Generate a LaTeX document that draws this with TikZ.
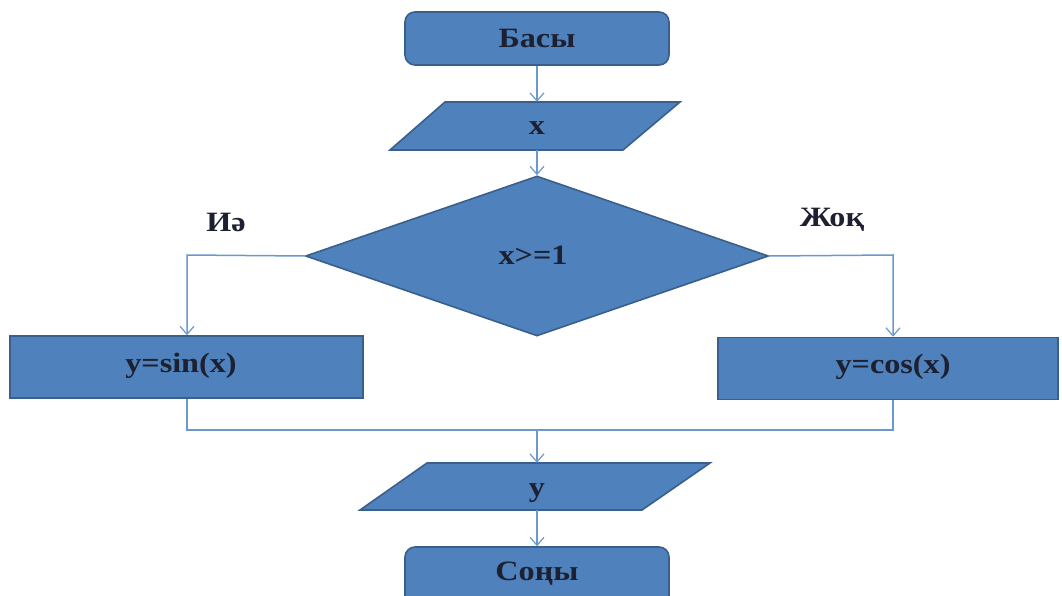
\documentclass[tikz,border=0pt]{standalone}
\usepackage{fontspec}
\setmainfont{Liberation Serif}
\newfontfamily\diagfont[FakeStretch=1.15]{Liberation Serif}
\usetikzlibrary{shapes.geometric,arrows.meta}
\definecolor{boxfill}{HTML}{4F81BD}
\definecolor{boxedge}{HTML}{3A5F8B}
\definecolor{linec}{HTML}{6A98CF}
\definecolor{txt}{HTML}{1C2030}
\tikzset{
  shapebox/.style={draw=boxedge,fill=boxfill,line width=1.6pt,inner sep=0pt,font=\diagfont\bfseries\fontsize{28}{32}\selectfont,text=txt},
  termbox/.style={shapebox,rounded corners=10pt,minimum width=264pt,minimum height=53pt},
  procbox/.style={shapebox,minimum height=62pt},
  textonly/.style={inner sep=0pt,font=\diagfont\bfseries\fontsize{28}{32}\selectfont,text=txt},
  conn/.style={draw=linec,line width=1.5pt,-{Straight Barb[length=8pt,width=14pt,line width=1.2pt]}},
  plain/.style={draw=linec,line width=1.5pt},
  lbl/.style={inner sep=0pt,font=\diagfont\bfseries\fontsize{28}{32}\selectfont,text=txt}
}
\begin{document}
\begin{tikzpicture}[x=1pt,y=-1pt]
\useasboundingbox (0,0) rectangle (1062,596);
\begin{scope}
\clip (0,0) rectangle (1062,596);
% terminals
\node[termbox] (basy) at (537,38.5) {};
\node[textonly,anchor=base] at (537,48) {Басы};
\node[termbox,minimum height=60pt] (sony) at (537,577) {};
\node[textonly,anchor=base] at (537,580) {Соңы};
% input x
\filldraw[draw=boxedge,fill=boxfill,line width=1.6pt] (445,102) -- (680,102) -- (623,150) -- (390,150) -- cycle;
\node[minimum width=150pt,minimum height=48pt,inner sep=0pt] (xin) at (537,126) {};
\node[textonly,anchor=base] at (537,135) {x};
% decision
\node[shapebox,diamond,minimum width=463pt,minimum height=160pt] (dec) at (537,256) {};
\node[textonly] at (533,255) {x>=1};
% process boxes
\node[procbox,minimum width=353pt] (sin) at (186.5,367) {};
\node[textonly] at (181,366) {y=sin(x)};
\node[procbox,minimum width=340pt] (cos) at (888,368.5) {};
\node[textonly] at (893,367) {y=cos(x)};
% output y
\filldraw[draw=boxedge,fill=boxfill,line width=1.6pt] (427,463) -- (710,463) -- (642,510) -- (360,510) -- cycle;
\node[minimum width=150pt,minimum height=47pt,inner sep=0pt] (yout) at (537,486.5) {};
\node[textonly,anchor=base] at (537,496) {y};
% labels
\node[lbl] (yes) at (226,222) {Иә};
\node[lbl] (no) at (832,220) {Жоқ};
% connectors
\draw[conn] (basy.south) -- (xin.north);
\draw[conn] (xin.south) -- (dec.north);
\coordinate (lt) at (187,255);
\coordinate (rt) at (893,255);
\draw[conn] (dec.west) -- (lt) -- (sin.north -| lt);
\draw[conn] (dec.east) -- (rt) -- (cos.north -| rt);
\coordinate (jl) at (187,430);
\coordinate (jr) at (893,430);
\coordinate (jm) at (537,430);
\draw[plain] (sin.south -| jl) -- (jl) -- (jr) -- (cos.south -| jr);
\draw[conn] (jm) -- (yout.north);
\draw[conn] (yout.south) -- (sony.north);
\end{scope}
\end{tikzpicture}
\end{document}
